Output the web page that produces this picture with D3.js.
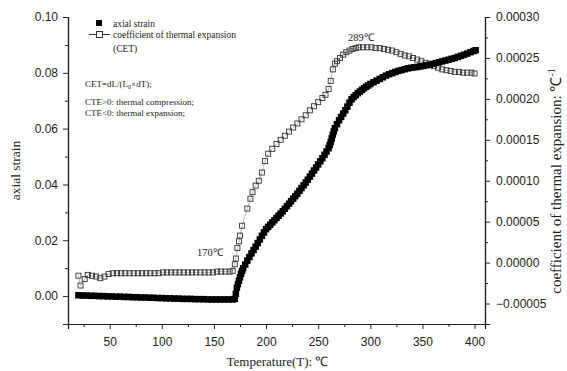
<!DOCTYPE html>
<html>
<head>
<meta charset="utf-8">
<script src="https://cdn.jsdelivr.net/npm/d3@7"></script>
<style>
  html, body { margin: 0; padding: 0; background: #fff; }
  svg { display: block; }
  .tick text { font-family: "Liberation Sans", Arial, sans-serif; font-size: 12px; fill: #222; }
  .serif { font-family: "Liberation Serif", "Times New Roman", serif; fill: #222; }
</style>
</head>
<body>
<svg id="chart" width="567" height="371"></svg>
<script>
// Axial strain vs temperature (left axis)
const strainT = [20, 24, 28, 32, 36, 40, 44, 48, 52, 56, 60, 64, 68, 72, 76, 80, 84, 88, 92, 96,
  100, 104, 108, 112, 116, 120, 124, 128, 132, 136, 140, 144, 148, 152, 156, 160, 164, 168, 170,
  171, 172, 173, 174, 175, 176, 177, 178, 180, 182, 184, 186, 188, 190, 192, 194, 196, 198, 200,
  202, 204, 206, 208, 210, 212, 214, 216, 218, 220, 222, 224, 226, 228, 230, 232, 234, 236, 238,
  240, 242, 244, 246, 248, 250, 252, 254, 256, 258, 260, 261, 262, 263, 264, 265, 266, 268, 270,
  272, 274, 276, 278, 280, 282, 284, 286, 288, 290, 292, 294, 296, 298, 300, 303, 306, 309, 312,
  315, 318, 321, 324, 327, 330, 333, 336, 339, 342, 345, 348, 351, 354, 357, 360, 363, 366, 369,
  372, 375, 378, 381, 384, 387, 390, 393, 396, 399, 401];
const strainV = [0.0003, 0.0002, 0.0002, 0.0001, 0.0001, 0.0000, 0.0000, -0.0001, -0.0001,
  -0.0002, -0.0002, -0.0003, -0.0003, -0.0004, -0.0004, -0.0005, -0.0005, -0.0006, -0.0006,
  -0.0007, -0.0007, -0.0008, -0.0008, -0.0009, -0.0009, -0.0010, -0.0010, -0.0010, -0.0011,
  -0.0011, -0.0011, -0.0012, -0.0012, -0.0012, -0.0012, -0.0012, -0.0012, -0.0012, -0.0010,
  0.0008, 0.0030, 0.0043, 0.0055, 0.0068, 0.0080, 0.0090, 0.0100, 0.0113, 0.0127, 0.0140,
  0.0153, 0.0165, 0.0177, 0.0190, 0.0203, 0.0216, 0.0228, 0.0240, 0.0248, 0.0256, 0.0264,
  0.0272, 0.0280, 0.0288, 0.0296, 0.0304, 0.0313, 0.0322, 0.0331, 0.0340, 0.0349, 0.0358,
  0.0367, 0.0377, 0.0387, 0.0397, 0.0407, 0.0417, 0.0428, 0.0439, 0.0450, 0.0461, 0.0472,
  0.0483, 0.0494, 0.0506, 0.0518, 0.0530, 0.0541, 0.0552, 0.0565, 0.0578, 0.0590, 0.0602,
  0.0616, 0.0630, 0.0642, 0.0654, 0.0666, 0.0679, 0.0693, 0.0705, 0.0713, 0.0720, 0.0727,
  0.0733, 0.0739, 0.0745, 0.0750, 0.0755, 0.0760, 0.0766, 0.0772, 0.0778, 0.0784, 0.0790,
  0.0795, 0.0799, 0.0803, 0.0807, 0.0810, 0.0813, 0.0816, 0.0818, 0.0820, 0.0821, 0.0823,
  0.0825, 0.0827, 0.0829, 0.0832, 0.0835, 0.0838, 0.0841, 0.0844, 0.0847, 0.0850, 0.0853,
  0.0857, 0.0861, 0.0865, 0.0869, 0.0874, 0.0878, 0.0881];

// Coefficient of thermal expansion vs temperature (right axis)
const cetT = [20, 22, 26, 29, 33, 37, 41, 45, 49, 53, 57, 61, 65, 69, 73, 77, 81, 85, 89, 93,
  97, 101, 105, 109, 113, 117, 121, 125, 129, 133, 137, 141, 145, 149, 153, 157, 161, 165,
  168, 170, 171, 172.5, 174, 175, 177, 182, 185, 187, 190, 193, 196, 199, 202, 206, 210, 214,
  218, 222, 226, 230, 234, 238, 242, 246, 250, 254, 257, 260, 262, 264, 266, 268, 271, 274,
  277, 280, 283, 286, 289, 293, 297, 301, 305, 309, 313, 317, 321, 325, 329, 333, 337, 341,
  345, 349, 353, 357, 361, 365, 369, 373, 377, 381, 385, 389, 393, 397, 400];
const cetV = [-0.000016, -0.000028, -0.000020, -0.000015, -0.000016, -0.000017, -0.000019,
  -0.000017, -0.000014, -0.000013, -0.000013, -0.000013, -0.000013, -0.000013, -0.000013,
  -0.000013, -0.000013, -0.000013, -0.000013, -0.000013, -0.000013, -0.000012, -0.000012,
  -0.000012, -0.000012, -0.000012, -0.000012, -0.000012, -0.000012, -0.000012, -0.000012,
  -0.000012, -0.000012, -0.000012, -0.000011, -0.000011, -0.000011, -0.000011,
  -0.000010, -0.000002, 0.000005, 0.000018, 0.000026, 0.000033, 0.000045, 0.000066, 0.000078,
  0.000086, 0.000094, 0.000100, 0.000110, 0.000124, 0.000133, 0.000139, 0.000145, 0.000150,
  0.000155, 0.000160, 0.000165, 0.000170, 0.000175, 0.000180, 0.000186, 0.000191, 0.000196,
  0.000201, 0.000205, 0.000212, 0.000222, 0.000236, 0.000243, 0.000246, 0.000250, 0.000254,
  0.000257, 0.000259, 0.000261, 0.000262, 0.000263, 0.000263, 0.000263, 0.000263, 0.000262,
  0.000262, 0.000261, 0.000260, 0.000259, 0.000257, 0.000255, 0.000253, 0.000252, 0.000250,
  0.000248, 0.000246, 0.000244, 0.000242, 0.000240, 0.000238, 0.000236, 0.000235, 0.000234,
  0.000233, 0.000233, 0.000232, 0.000232, 0.000232, 0.000231];

// Tick values and labels
const xTicks = [50, 100, 150, 200, 250, 300, 350, 400];
const xMinor = [25, 75, 125, 175, 225, 275, 325, 375];
const yLeftTicks = [0.00, 0.02, 0.04, 0.06, 0.08, 0.10];
const yLeftMinor = [-0.01, 0.01, 0.03, 0.05, 0.07, 0.09];
const yRightTicks = [-0.00005, 0.00000, 0.00005, 0.00010, 0.00015, 0.00020, 0.00025, 0.00030];
const yRightMinor = [-0.000075, -0.000025, 0.000025, 0.000075, 0.000125, 0.000175, 0.000225, 0.000275];

const strain = strainT.map((t, i) => ({ t, v: strainV[i] }));
const cet = cetT.map((t, i) => ({ t, v: cetV[i] }));

const svg = d3.select("#chart");
const plotL = 68, plotR = 485, plotT = 17, plotB = 324;

const x = d3.scaleLinear().domain([10, 410]).range([plotL, plotR]);
const yL = d3.scaleLinear().domain([-0.01, 0.10]).range([plotB, plotT]);
const yR = d3.scaleLinear().domain([-0.000075, 0.0003]).range([plotB, plotT]);

function styleAxis(g) {
  g.select(".domain").attr("stroke", "#222").attr("stroke-width", 1.2);
  g.selectAll(".tick line").attr("stroke", "#222");
}

// Minor ticks
svg.append("g").attr("transform", `translate(0,${plotB})`)
  .call(d3.axisBottom(x).tickValues(xMinor).tickSize(3).tickFormat(""))
  .call(styleAxis);
svg.append("g").attr("transform", `translate(${plotL},0)`)
  .call(d3.axisLeft(yL).tickValues(yLeftMinor).tickSize(3).tickFormat(""))
  .call(styleAxis);
svg.append("g").attr("transform", `translate(${plotR},0)`)
  .call(d3.axisRight(yR).tickValues(yRightMinor).tickSize(3).tickFormat(""))
  .call(styleAxis);

// Major ticks
svg.append("g").attr("transform", `translate(0,${plotB})`)
  .call(d3.axisBottom(x).tickValues(xTicks).tickSize(5).tickPadding(8).tickFormat(d3.format("d")))
  .call(styleAxis);
svg.append("g").attr("transform", `translate(${plotL},0)`)
  .call(d3.axisLeft(yL).tickValues(yLeftTicks).tickSize(5).tickPadding(5).tickFormat(d3.format(".2f")))
  .call(styleAxis);
svg.append("g").attr("transform", `translate(${plotR},0)`)
  .call(d3.axisRight(yR).tickValues(yRightTicks).tickSize(5).tickPadding(6).tickFormat(d3.format(".5f")))
  .call(styleAxis);

// CET connecting line and hollow markers
svg.append("path").datum(cet)
  .attr("fill", "none").attr("stroke", "#999").attr("stroke-width", 0.7)
  .attr("d", d3.line().x(d => x(d.t)).y(d => yR(d.v)));

const hs = 5;
svg.append("g").selectAll("rect").data(cet).join("rect")
  .attr("x", d => x(d.t) - hs / 2).attr("y", d => yR(d.v) - hs / 2)
  .attr("width", hs).attr("height", hs)
  .attr("fill", "none").attr("stroke", "#333").attr("stroke-width", 0.9);

// Axial strain filled markers
const bs = 6.5;
svg.append("g").selectAll("rect").data(strain).join("rect")
  .attr("x", d => x(d.t) - bs / 2).attr("y", d => yL(d.v) - bs / 2)
  .attr("width", bs).attr("height", bs)
  .attr("fill", "#000");

// Axis titles
svg.append("text").attr("class", "serif")
  .attr("x", (plotL + plotR) / 2 + 1).attr("y", 366)
  .attr("text-anchor", "middle").attr("font-size", 13)
  .text("Temperature(T): ℃");

svg.append("text").attr("class", "serif")
  .attr("transform", `translate(20,${(plotT + plotB) / 2}) rotate(-90)`)
  .attr("text-anchor", "middle").attr("font-size", 13.5)
  .text("axial strain");

const rt = svg.append("text").attr("class", "serif")
  .attr("transform", `translate(561,181) rotate(-90)`)
  .attr("text-anchor", "middle").attr("font-size", 15);
rt.append("tspan").text("coefficient of thermal expansion: ℃");
rt.append("tspan").attr("dy", -6).attr("font-size", 10).text("-1");

// Legend
svg.append("rect").attr("x", 96).attr("y", 20).attr("width", 6).attr("height", 6).attr("fill", "#000");
svg.append("text").attr("class", "serif").attr("x", 113).attr("y", 27)
  .attr("font-size", 9.5).text("axial strain");
svg.append("line").attr("x1", 89).attr("x2", 110).attr("y1", 34.5).attr("y2", 34.5)
  .attr("stroke", "#333").attr("stroke-width", 1);
svg.append("rect").attr("x", 96.5).attr("y", 31.5).attr("width", 6).attr("height", 6)
  .attr("fill", "#fff").attr("stroke", "#333").attr("stroke-width", 1);
svg.append("text").attr("class", "serif").attr("x", 113).attr("y", 38)
  .attr("font-size", 9.5).text("coefficient of thermal expansion");
svg.append("text").attr("class", "serif").attr("x", 113).attr("y", 52)
  .attr("font-size", 9.5).text("(CET)");

// Definitions
const note = svg.append("text").attr("class", "serif").attr("x", 85).attr("y", 87).attr("font-size", 9);
note.append("tspan").text("CET=dL/(L");
note.append("tspan").attr("dy", 2).attr("font-size", 6).text("0");
note.append("tspan").attr("dy", -2).text("×dT);");
svg.append("text").attr("class", "serif").attr("x", 85).attr("y", 105)
  .attr("font-size", 9).text("CTE>0: thermal compression;");
svg.append("text").attr("class", "serif").attr("x", 85).attr("y", 116)
  .attr("font-size", 9).text("CTE<0: thermal expansion;");

// Point annotations
svg.append("text").attr("class", "serif").attr("x", 197).attr("y", 256)
  .attr("font-size", 10.5).text("170℃");
svg.append("text").attr("class", "serif").attr("x", 348).attr("y", 41)
  .attr("font-size", 10.5).text("289℃");
</script>
</body>
</html>
